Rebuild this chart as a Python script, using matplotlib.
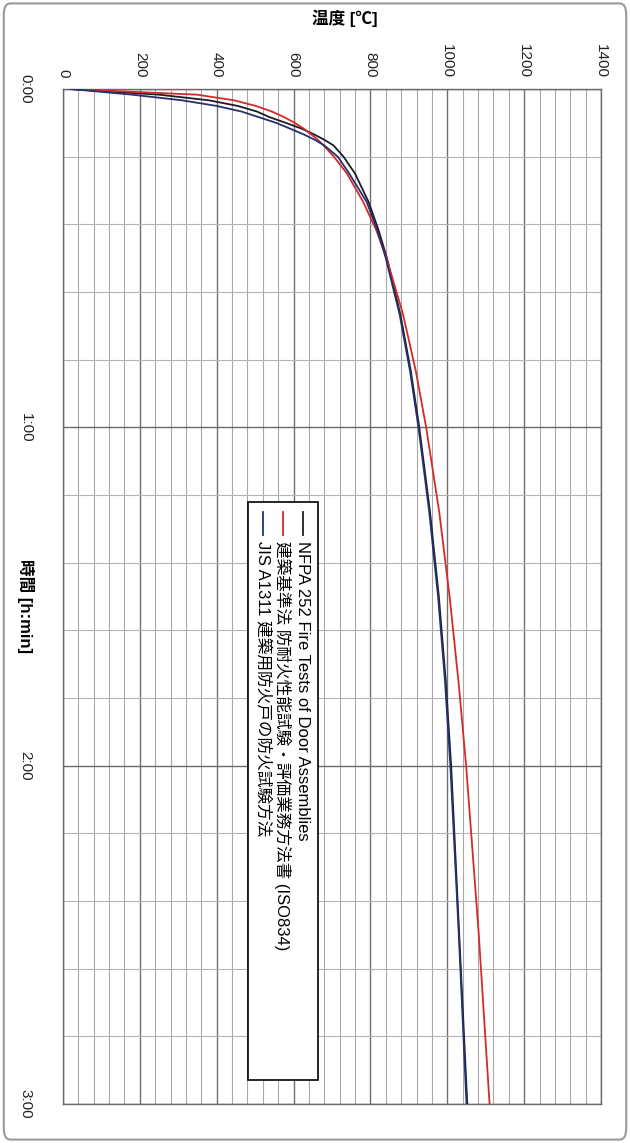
import matplotlib.pyplot as plt
from matplotlib.patches import Rectangle, FancyBboxPatch
from matplotlib.lines import Line2D

plt.rcParams['font.family'] = ['Liberation Sans', 'Noto Sans CJK JP', 'DejaVu Sans']

# time in minutes, temperature in degC
minutes = [0, 1, 2, 3, 4, 5, 6, 7, 8, 9, 10, 12, 15, 20, 25, 30, 40, 50, 60, 75, 90, 105, 120, 150, 180]
nfpa_252 = [20, 250, 380, 455, 505, 538, 580, 620, 652, 680, 704, 730, 760, 795, 821, 843, 878, 905, 927,
            955, 978, 996, 1010, 1031, 1052]
iso_834 = [20, 349, 445, 502, 544, 576, 603, 626, 645, 663, 678, 705, 739, 781, 815, 842, 885, 918, 945,
           979, 1006, 1029, 1049, 1082, 1110]
jis_a1311 = [20, 180, 310, 400, 465, 510, 555, 590, 625, 655, 680, 715, 745, 790, 818, 840, 876, 903, 925,
             953, 976, 994, 1008, 1030, 1050]

series_names = ['NFPA 252 Fire Tests of Door Assemblies',
                '建築基準法 防耐火性能試験・評価業務方法書 (ISO834)',
                'JIS A1311 建築用防火戸の防火試験方法']
series_colors = ['#1c1c24', '#d42a2a', '#26306e']

temp_ticks = [0, 200, 400, 600, 800, 1000, 1200, 1400]
time_ticks = [0, 60, 120, 180]
time_labels = ['0:00', '1:00', '2:00', '3:00']

fig = plt.figure(figsize=(6.3, 11.43), dpi=100)
ax = fig.add_axes([0.1, 0.0341, 0.854, 0.888])

# grid: minor every 40 degC / 12 min, major every 200 degC / 1 h
for t in range(0, 1401, 40):
    if t % 200:
        ax.axvline(t, color='#a8a8a8', lw=0.8, zorder=1)
for t in temp_ticks:
    ax.axvline(t, color='#707070', lw=1.0, zorder=1)
for m in range(0, 181, 12):
    if m % 60:
        ax.axhline(m, color='#b4b4b4', lw=0.8, zorder=1)
for m in time_ticks:
    ax.axhline(m, color='#6a6a6a', lw=1.0, zorder=1)

data = [nfpa_252, iso_834, jis_a1311]
for vals, c in zip(data, series_colors):
    ax.plot(vals, minutes, color=c, lw=1.3, zorder=3)

ax.set_xlim(0, 1400)
ax.set_ylim(180, 0)
ax.xaxis.tick_top()
ax.set_xticks(temp_ticks)
ax.set_xticklabels([str(t) for t in temp_ticks], rotation=-90)
ax.set_yticks(time_ticks)
ax.set_yticklabels(time_labels, rotation=-90, va='center')
ax.tick_params(axis='x', length=0, pad=8, labelsize=11, colors='#222222')
ax.tick_params(axis='y', length=0, pad=22, labelsize=11, colors='#222222')
for s in ax.spines.values():
    s.set_color('#6a6a6a')
    s.set_linewidth(1.0)

# legend drawn rotated like the rest of the chart
ax.add_patch(Rectangle((0.344, 0.024), 0.13, 0.569, transform=ax.transAxes,
                       facecolor='white', edgecolor='black', lw=1.2, zorder=5))
col_x = [0.446, 0.409, 0.372]
for name, c, x in zip(series_names, series_colors, col_x):
    ax.add_line(Line2D([x, x], [0.583, 0.561], transform=ax.transAxes,
                       color=c, lw=1.3, zorder=6))
    ax.text(x, 0.555, name, transform=ax.transAxes, rotation=-90,
            ha='center', va='top', fontsize=12, zorder=6)

fig.text(0.548, 1 - 18 / 1143, '温度 [℃]', ha='center', va='center',
         fontsize=12, fontweight='bold')
fig.text(0.04, 1 - 606 / 1143, '時間 [h:min]', ha='center', va='center',
         rotation=-90, fontsize=12, fontweight='bold')

frame = FancyBboxPatch((0.006, 0.003), 0.988, 0.994, boxstyle='round,pad=0,rounding_size=0.01',
                       transform=fig.transFigure, fill=False, edgecolor='#9a9a9a', lw=1.5)
fig.patches.append(frame)

fig.savefig('out.png', dpi=100)
